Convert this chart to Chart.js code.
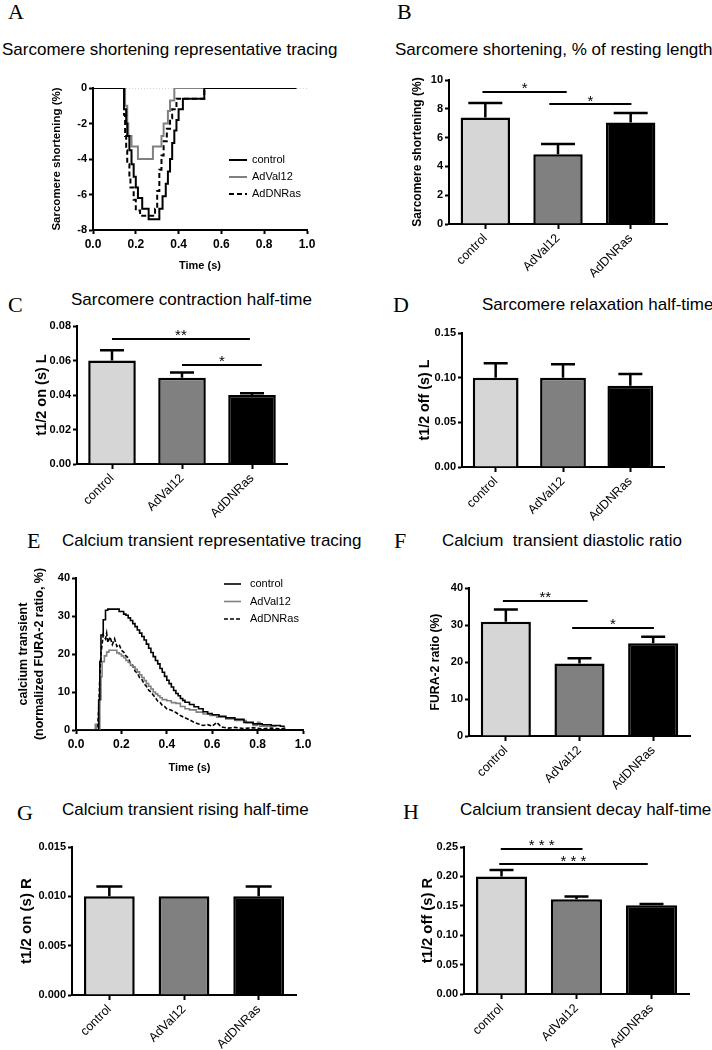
<!DOCTYPE html>
<html>
<head>
<meta charset="utf-8">
<script src="https://cdn.jsdelivr.net/npm/chart.js@4.4.1/dist/chart.umd.min.js"></script>
<style>
body { margin: 0; background: #fff; }
#page { position: relative; width: 712px; height: 1050px; overflow: hidden; font-family: 'Liberation Sans', Arial, sans-serif; }
canvas { position: absolute; }
.lbl { position: absolute; font-family: 'Liberation Serif', 'Times New Roman', serif; font-size: 22px; line-height: 22px; white-space: nowrap; }
.ttl { position: absolute; font-size: 17px; line-height: 17px; white-space: pre; color: #000; }
</style>
</head>
<body>
<div id="page"></div>
<script>
// ---- data ----
const groups = ['control', 'AdVal12', 'AdDNRas'];
const barColors = ['#d6d6d6', '#808080', '#000000'];

// A: sarcomere shortening tracing, [time s, %]
const aControl = [[0,0],[0.14,0],[0.145,-1.2],[0.155,-2.0],[0.16,-2.7],[0.17,-3.5],[0.18,-4.3],[0.19,-5.0],[0.20,-5.6],[0.21,-6.2],[0.23,-6.8],[0.26,-7.4],
  [0.31,-6.8],[0.325,-6.1],[0.34,-5.4],[0.35,-4.7],[0.36,-4.0],[0.37,-3.1],[0.38,-2.4],[0.39,-1.8],[0.40,-1.2],[0.42,-0.6],[0.52,0],[0.95,0]];
const aVal12 = [[0,0],[0.14,0],[0.15,-1.0],[0.16,-2.0],[0.165,-2.7],[0.18,-3.3],[0.21,-4.0],[0.28,-3.3],[0.32,-2.7],[0.33,-2.0],[0.35,-1.3],[0.36,-0.7],[0.38,0],[0.95,0]];
const aDNRas = [[0,0],[0.14,0],[0.145,-1.5],[0.15,-2.7],[0.155,-3.5],[0.16,-4.3],[0.17,-5.0],[0.175,-5.6],[0.19,-6.3],[0.20,-6.9],[0.22,-7.2],
  [0.29,-6.8],[0.30,-5.8],[0.31,-4.6],[0.32,-3.8],[0.33,-3.0],[0.345,-2.3],[0.36,-1.7],[0.37,-1.2],[0.39,-0.6],[0.52,0],[0.95,0]];
const aZero = [[0,0],[1,0]];

// B..H: bar means and upper SEM
const shortening = [7.4, 4.85, 7.05];
const shorteningErr = [1.0, 0.7, 0.65];
const contraction = [0.060, 0.050, 0.040];
const contractionErr = [0.006, 0.003, 0.001];
const relaxation = [0.100, 0.100, 0.091];
const relaxationErr = [0.016, 0.015, 0.013];
const diastolic = [30.9, 19.6, 25.1];
const diastolicErr = [3.3, 1.4, 1.7];
const rising = [0.010, 0.010, 0.010];
const risingErr = [0.001, 0, 0.001];
const decay = [0.200, 0.161, 0.151];
const decayErr = [0.011, 0.005, 0.002];

// E: calcium transient tracing, [time s, %]
const eControl = [[0,0],[0.095,0],[0.10,8],[0.105,18],[0.11,25],[0.12,29],[0.13,31.5],[0.14,31.8],[0.18,31.8],[0.19,31.2],[0.21,30.5],[0.22,30.2],
  [0.23,29.5],[0.24,28.8],[0.25,28],[0.26,27.2],[0.27,26.3],[0.28,25.5],[0.29,24.6],[0.30,23.7],[0.31,22.6],[0.32,21.5],[0.33,20.4],[0.34,19.3],
  [0.35,18.3],[0.36,17.4],[0.37,16.2],[0.38,15.2],[0.39,14.1],[0.40,13.1],[0.41,12.2],[0.42,11.3],[0.43,10.4],[0.44,9.6],[0.45,9.0],[0.46,8.3],
  [0.47,7.8],[0.48,7.3],[0.50,6.7],[0.52,6.1],[0.54,5.6],[0.56,4.8],[0.58,4.3],[0.60,4.0],[0.63,3.6],[0.66,3.2],[0.70,2.8],[0.74,2.0],[0.78,1.6],
  [0.82,1.4],[0.86,1.2],[0.90,1.0],[0.92,1.0]];
const eVal12 = [[0,0],[0.08,0],[0.085,1.5],[0.09,0],[0.10,0],[0.105,8],[0.11,14],[0.115,18],[0.125,19.5],[0.135,20.5],[0.145,21],[0.17,21],
  [0.18,20.3],[0.19,20],[0.20,19.5],[0.21,19],[0.22,18.3],[0.23,17.8],[0.24,17],[0.25,16.6],[0.26,16],[0.27,15.3],[0.28,14.5],[0.29,13.8],
  [0.30,13],[0.31,12.2],[0.32,11.5],[0.33,10.8],[0.34,10],[0.35,9.5],[0.36,9],[0.37,8.5],[0.38,8],[0.40,7.7],[0.42,7.2],[0.44,7.0],[0.46,6.2],
  [0.48,5.6],[0.50,5.3],[0.53,4.7],[0.56,4.2],[0.59,3.8],[0.62,3.4],[0.66,2.9],[0.70,2.5],[0.75,1.9],[0.78,1.2],[0.80,2.0],[0.81,1.0],[0.85,1.0],[0.88,0.8]];
const eDNRas = [[0,0],[0.095,0],[0.10,6],[0.105,14],[0.11,20],[0.12,25],[0.13,24],[0.135,25.5],[0.14,23],[0.15,24.5],[0.16,22.5],[0.17,24],
  [0.18,22],[0.19,22.5],[0.20,21],[0.21,20.5],[0.22,19.5],[0.23,19],[0.24,17.5],[0.25,17],[0.26,15.5],[0.27,15],[0.28,13.8],[0.29,13.3],
  [0.30,12.2],[0.31,11.5],[0.32,10.5],[0.33,10],[0.34,9.2],[0.35,8.5],[0.36,7.6],[0.37,7.3],[0.38,6.5],[0.39,6.2],[0.40,5.6],[0.42,5.2],
  [0.44,4.6],[0.46,3.8],[0.48,3.2],[0.50,2.7],[0.52,2.0],[0.54,1.6],[0.56,1.2],[0.58,1.4],[0.60,1.0],[0.62,2.0],[0.64,0.8],[0.67,0.5],
  [0.70,0.7],[0.74,0.4],[0.78,0.6],[0.82,0.3],[0.86,0.5],[0.90,0.3],[0.93,0.6]];

// significance bars (x in category index units)
const sigB = [{from: -0.04, to: 1.12, y: 9.17, text: '*'}, {from: 0.88, to: 2.01, y: 8.33, text: '*'}];
const sigC = [{from: 0, to: 1.97, y: 0.0725, text: '**'}, {from: 1.0, to: 2.14, y: 0.0574, text: '*'}];
const sigF = [{from: -0.04, to: 1.11, y: 36.5, text: '**'}, {from: 0.9, to: 2.01, y: 29.2, text: '*'}];
const sigH = [{from: -0.01, to: 1.08, y: 0.2466, text: '* * *'}, {from: -0.03, to: 1.95, y: 0.221, text: '* * *'}];

// ---- setup ----
const FAMILY = "'Liberation Sans', Arial, Helvetica, sans-serif";
Chart.defaults.font.family = FAMILY;
Chart.defaults.color = '#000';
Chart.defaults.animation = false;
const page = document.getElementById('page');

function text(cls, str, x, y) {
  const d = document.createElement('div');
  d.className = cls;
  d.textContent = str;
  d.style.left = x + 'px';
  d.style.top = y + 'px';
  page.appendChild(d);
}

const xy = pairs => pairs.map(([x, y]) => ({x, y}));

// error bars, significance lines, inline legend
function annot(o) {
  return {
    id: 'annot',
    afterDatasetsDraw(chart) {
      const ctx = chart.ctx, xs = chart.scales.x, ys = chart.scales.y, a = chart.chartArea;
      ctx.save();
      ctx.strokeStyle = '#000';
      ctx.fillStyle = '#000';
      if (o.errors) {
        const meta = chart.getDatasetMeta(0);
        const vals = chart.data.datasets[0].data;
        ctx.lineWidth = 2.5;
        o.errors.forEach((e, i) => {
          if (!e) return;
          const px = meta.data[i].x;
          const y0 = ys.getPixelForValue(vals[i]);
          const y1 = ys.getPixelForValue(vals[i] + e);
          ctx.beginPath();
          ctx.moveTo(px, y0); ctx.lineTo(px, y1);
          ctx.moveTo(px - o.cap, y1); ctx.lineTo(px + o.cap, y1);
          ctx.stroke();
        });
      }
      (o.sig || []).forEach(s => {
        const xa = xs.getPixelForValue(s.from), xb = xs.getPixelForValue(s.to);
        const py = ys.getPixelForValue(s.y);
        ctx.lineWidth = 2;
        ctx.beginPath(); ctx.moveTo(xa, py); ctx.lineTo(xb, py); ctx.stroke();
        ctx.font = '15px ' + FAMILY;
        ctx.textAlign = 'center';
        ctx.textBaseline = 'alphabetic';
        ctx.fillText(s.text, (xa + xb) / 2, py + 1.5);
      });
      if (o.legend) {
        const L = o.legend;
        let k = 0;
        chart.data.datasets.forEach(d => {
          if (!d.label) return;
          const yy = a.top + L.dy + k * L.row;
          const x0 = a.left + L.dx;
          ctx.strokeStyle = d.borderColor;
          ctx.lineWidth = d.borderWidth;
          ctx.setLineDash(d.borderDash || []);
          ctx.beginPath(); ctx.moveTo(x0, yy); ctx.lineTo(x0 + L.len, yy); ctx.stroke();
          ctx.setLineDash([]);
          ctx.font = '11px ' + FAMILY;
          ctx.textAlign = 'left';
          ctx.textBaseline = 'middle';
          ctx.fillText(d.label, x0 + L.len + L.gap, yy);
          k++;
        });
      }
      ctx.restore();
    }
  };
}

function yAxis(min, max, step, dec, title, tSize, tCenter, boxX, lh) {
  const lineH = lh || tSize * 1.2;
  return {
    min, max,
    border: {display: true, color: '#000', width: 2},
    grid: {display: true, drawOnChartArea: false, drawTicks: true, tickLength: 4, tickWidth: 2, tickColor: '#000'},
    ticks: {stepSize: step, color: '#000', padding: 2, font: {size: 11, weight: 'bold'},
      callback: v => Number(v).toFixed(dec)},
    title: {display: true, text: title, color: '#000',
      font: {size: tSize, weight: 'bold', lineHeight: lineH / tSize},
      padding: {top: tCenter - boxX - lineH / 2, bottom: 0}}
  };
}

function timeAxis() {
  return {
    type: 'linear', min: 0, max: 1,
    border: {display: true, color: '#000', width: 2},
    grid: {display: true, drawOnChartArea: false, drawTicks: true, tickLength: 4, tickWidth: 2, tickColor: '#000'},
    ticks: {stepSize: 0.2, color: '#000', padding: 3, maxRotation: 0, font: {size: 12, weight: 'bold'},
      callback: v => Number(v).toFixed(1)},
    title: {display: true, text: 'Time (s)', color: '#000', font: {size: 11, weight: 'bold'}, padding: {top: 0, bottom: 0}}
  };
}

function catAxis() {
  return {
    type: 'category', offset: true,
    border: {display: true, color: '#000', width: 2},
    grid: {display: true, offset: false, drawOnChartArea: false, drawTicks: true, tickLength: 5, tickWidth: 2, tickColor: '#000'},
    ticks: {color: '#000', padding: 2, minRotation: 45, maxRotation: 45, autoSkip: false, font: {size: 12.5}}
  };
}

function place(box, area, cfg) {
  const c = document.createElement('canvas');
  c.width = box.w; c.height = box.h;
  c.style.left = box.x + 'px';
  c.style.top = box.y + 'px';
  page.appendChild(c);
  cfg.options.responsive = false;
  cfg.options.devicePixelRatio = 1;
  cfg.options.layout = {autoPadding: false,
    padding: {left: 0, top: area.t - box.y, right: box.x + box.w - area.r, bottom: 0}};
  cfg.options.scales.x.afterFit = s => { s.height = box.y + box.h - area.b; };
  cfg.options.scales.y.afterFit = s => { s.width = area.l - box.x; };
  cfg.options.plugins = Object.assign({legend: {display: false}, tooltip: {enabled: false}}, cfg.options.plugins || {});
  return new Chart(c, cfg);
}

function barChart(box, area, values, errs, sig, cap, yOpts) {
  return place(box, area, {
    type: 'bar',
    data: {labels: groups, datasets: [{data: values, backgroundColor: barColors, borderColor: '#000', borderWidth: 2.5,
      barPercentage: 0.68, categoryPercentage: 1}]},
    options: {scales: {x: catAxis(), y: yOpts}},
    plugins: [annot({errors: errs, cap: cap, sig: sig})]
  });
}

function lineSet(label, pts, color, dash, width, stepped) {
  return {label, data: xy(pts), borderColor: color, borderWidth: width, borderDash: dash, pointRadius: 0,
    fill: false, tension: 0, stepped: stepped};
}

// ---- panel letters and titles ----
text('lbl', 'A', 8, 1);
text('lbl', 'B', 397, 1);
text('lbl', 'C', 8, 294);
text('lbl', 'D', 393, 294);
text('lbl', 'E', 27, 530);
text('lbl', 'F', 394, 530);
text('lbl', 'G', 17, 802);
text('lbl', 'H', 403, 801);
text('ttl', 'Sarcomere shortening representative tracing', 2, 41);
text('ttl', 'Sarcomere shortening, % of resting length', 395, 41);
text('ttl', 'Sarcomere contraction half-time', 71, 291);
text('ttl', 'Sarcomere relaxation half-time', 482, 296);
text('ttl', 'Calcium transient representative tracing', 62, 532);
text('ttl', 'Calcium  transient diastolic ratio', 442, 532);
text('ttl', 'Calcium transient rising half-time', 62, 801);
text('ttl', 'Calcium transient decay half-time', 460, 801);

// ---- A ----
place({x: 0, y: 78, w: 330, h: 195}, {l: 93, t: 88, r: 307, b: 230}, {
  type: 'line',
  data: {datasets: [
    lineSet('control', aControl, '#000', [], 2, true),
    lineSet('AdVal12', aVal12, '#808080', [], 2, true),
    lineSet('AdDNRas', aDNRas, '#000', [5, 3], 2, true),
    lineSet('', aZero, '#aaaaaa', [1, 2], 1, false)
  ]},
  options: {scales: {x: timeAxis(), y: yAxis(-8, 0, 2, 0, 'Sarcomere shortening (%)', 11.5, 57, 0)}},
  plugins: [annot({legend: {dx: 136, dy: 72, row: 17, len: 18, gap: 5}})]
});

// ---- B ----
barChart({x: 360, y: 70, w: 345, h: 212}, {l: 449, t: 80, r: 667, b: 224}, shortening, shorteningErr, sigB, 17,
  yAxis(0, 10, 2, 0, 'Sarcomere shortening (%)', 12, 418, 360));

// ---- C ----
barChart({x: 0, y: 316, w: 310, h: 204}, {l: 77, t: 326, r: 287, b: 464}, contraction, contractionErr, sigC, 12,
  yAxis(0, 0.08, 0.02, 2, 't1/2 on (s) L', 14.5, 42, 0));

// ---- D ----
barChart({x: 360, y: 323, w: 345, h: 199}, {l: 462, t: 333, r: 664, b: 467}, relaxation, relaxationErr, [], 12,
  yAxis(0, 0.15, 0.05, 2, 't1/2 off (s) L', 14.3, 425, 360));

// ---- E ----
place({x: 0, y: 568, w: 330, h: 207}, {l: 76, t: 578, r: 303, b: 730}, {
  type: 'line',
  data: {datasets: [
    lineSet('control', eControl, '#000', [], 1.6, true),
    lineSet('AdVal12', eVal12, '#808080', [], 1.6, true),
    lineSet('AdDNRas', eDNRas, '#000', [4, 2], 1.6, false)
  ]},
  options: {scales: {x: timeAxis(),
    y: yAxis(0, 40, 10, 0, ['calcium transient', '(normalized FURA-2 ratio, %)'], 12.5, 24, 0, 16)}},
  plugins: [annot({legend: {dx: 148, dy: 6, row: 17.5, len: 17, gap: 9}})]
});

// ---- F ----
barChart({x: 360, y: 578, w: 350, h: 217}, {l: 469, t: 588, r: 690, b: 736}, diastolic, diastolicErr, sigF, 12,
  yAxis(0, 40, 10, 0, 'FURA-2 ratio (%)', 12.2, 436, 360));

// ---- G ----
barChart({x: 0, y: 837, w: 320, h: 213}, {l: 72, t: 847, r: 296, b: 995}, rising, risingErr, [], 13,
  yAxis(0, 0.015, 0.005, 3, 't1/2 on (s) R', 15, 27, 0));

// ---- H ----
barChart({x: 360, y: 837, w: 350, h: 213}, {l: 464, t: 847, r: 689, b: 994}, decay, decayErr, sigH, 12,
  yAxis(0, 0.25, 0.05, 2, 't1/2 off (s) R', 14.8, 428, 360));
</script>
</body>
</html>
